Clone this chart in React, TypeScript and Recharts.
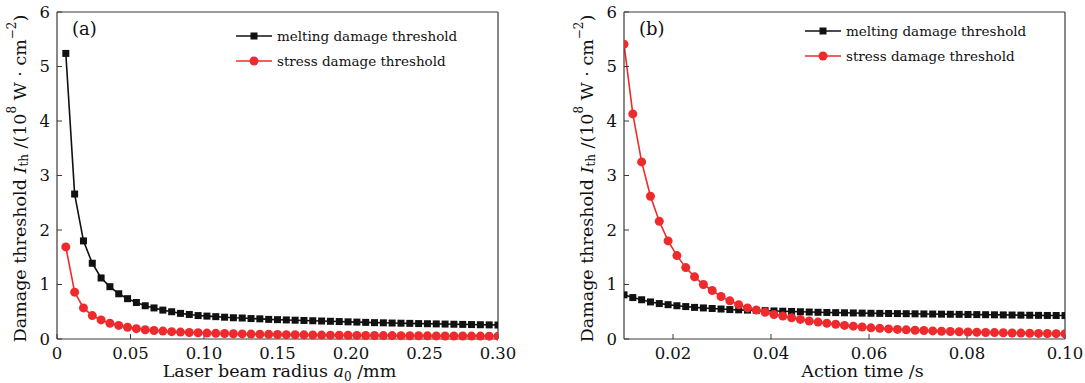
import { LineChart, Line, XAxis, YAxis, ReferenceLine, Label } from 'recharts';

const radius = [
  0.006, 0.012, 0.018, 0.024, 0.03, 0.036, 0.042, 0.048, 0.054, 0.06,
  0.066, 0.072, 0.078, 0.084, 0.09, 0.096, 0.102, 0.108, 0.114, 0.12,
  0.126, 0.132, 0.138, 0.144, 0.15, 0.156, 0.162, 0.168, 0.174, 0.18,
  0.186, 0.192, 0.198, 0.204, 0.21, 0.216, 0.222, 0.228, 0.234, 0.24,
  0.246, 0.252, 0.258, 0.264, 0.27, 0.276, 0.282, 0.288, 0.294, 0.3,
];
const meltingA = [
  5.24, 2.66, 1.8, 1.39, 1.12, 0.96, 0.83, 0.74, 0.67, 0.61,
  0.57, 0.53, 0.5, 0.47, 0.45, 0.43, 0.42, 0.41, 0.4, 0.39,
  0.385, 0.375, 0.37, 0.36, 0.355, 0.35, 0.345, 0.34, 0.335, 0.33,
  0.325, 0.32, 0.315, 0.31, 0.305, 0.3, 0.297, 0.293, 0.29, 0.287,
  0.283, 0.28, 0.277, 0.274, 0.271, 0.268, 0.265, 0.262, 0.259, 0.256,
];
const stressA = [
  1.69, 0.86, 0.57, 0.43, 0.35, 0.29, 0.25, 0.215, 0.19, 0.17,
  0.155, 0.145, 0.135, 0.127, 0.12, 0.114, 0.109, 0.104, 0.1, 0.096,
  0.093, 0.09, 0.087, 0.085, 0.082, 0.08, 0.078, 0.076, 0.074, 0.072,
  0.071, 0.069, 0.068, 0.066, 0.065, 0.064, 0.063, 0.062, 0.061, 0.06,
  0.059, 0.058, 0.057, 0.056, 0.055, 0.055, 0.054, 0.053, 0.052, 0.052,
];

const actionTime = [
  0.01, 0.0118, 0.0136, 0.0154, 0.0172, 0.019, 0.0208, 0.0226, 0.0244, 0.0262,
  0.028, 0.0298, 0.0316, 0.0334, 0.0352, 0.037, 0.0388, 0.0406, 0.0424, 0.0442,
  0.046, 0.0478, 0.0496, 0.0514, 0.0532, 0.055, 0.0568, 0.0586, 0.0604, 0.0622,
  0.064, 0.0658, 0.0676, 0.0694, 0.0712, 0.073, 0.0748, 0.0766, 0.0784, 0.0802,
  0.082, 0.0838, 0.0856, 0.0874, 0.0892, 0.091, 0.0928, 0.0946, 0.0964, 0.0982,
  0.1,
];
const meltingB = [
  0.81, 0.76, 0.72, 0.68, 0.65, 0.63, 0.61, 0.595, 0.58, 0.57,
  0.56, 0.55, 0.54, 0.535, 0.53, 0.525, 0.52, 0.515, 0.51, 0.505,
  0.5, 0.495, 0.49, 0.487, 0.484, 0.481, 0.478, 0.475, 0.472, 0.47,
  0.468, 0.466, 0.464, 0.462, 0.46, 0.458, 0.456, 0.454, 0.452, 0.45,
  0.448, 0.446, 0.444, 0.442, 0.44, 0.438, 0.436, 0.434, 0.432, 0.431,
  0.43,
];
const stressB = [
  5.41, 4.13, 3.25, 2.62, 2.16, 1.8, 1.53, 1.31, 1.14, 1.0,
  0.89, 0.78, 0.7, 0.63, 0.57, 0.53, 0.49, 0.45, 0.42, 0.39,
  0.36, 0.33, 0.31, 0.29, 0.27, 0.25, 0.235, 0.22, 0.205, 0.195,
  0.185, 0.176, 0.168, 0.161, 0.155, 0.149, 0.143, 0.138, 0.133, 0.128,
  0.124, 0.12, 0.117, 0.114, 0.111, 0.108, 0.105, 0.102, 0.1, 0.098,
  0.096,
];

const xTicksA = [0, 0.05, 0.1, 0.15, 0.2, 0.25, 0.3];
const xTicksB = [0.02, 0.04, 0.06, 0.08, 0.1];
const yTicks = [0, 1, 2, 3, 4, 5, 6];
const seriesNames = ['melting damage threshold', 'stress damage threshold'];

const BLACK = '#111';
const RED = '#ee2a2d';
const AXIS = '#3a3a3a';
const FONT = 'DejaVu Serif';

const dataA = radius.map((x, i) => ({ x, melting: meltingA[i], stress: stressA[i] }));
const dataB = actionTime.map((x, i) => ({ x, melting: meltingB[i], stress: stressB[i] }));

function Square(props: any) {
  const { cx, cy, index } = props;
  if (cx == null || cy == null) return <g key={index} />;
  return <rect key={index} x={cx - 3.5} y={cy - 3.5} width={7} height={7} fill={BLACK} />;
}

function Dot(props: any) {
  const { cx, cy, index } = props;
  if (cx == null || cy == null) return <g key={index} />;
  return <circle key={index} cx={cx} cy={cy} r={4.5} fill={RED} />;
}

function YTitle(props: any) {
  const vb = props.viewBox || { y: 12, height: 327 };
  const cx = 20;
  const cy = vb.y + vb.height / 2 + 3;
  return (
    <text
      x={cx}
      y={cy}
      transform={`rotate(-90, ${cx}, ${cy})`}
      textAnchor="middle"
      dominantBaseline="central"
      fontFamily={FONT}
      fontSize={17.5}
      fill={BLACK}
    >
      Damage threshold <tspan fontStyle="italic">I</tspan>
      <tspan fontSize={12} dy={4}>th</tspan>
      <tspan dy={-4}> /(10</tspan>
      <tspan fontSize={12} dy={-8}>8</tspan>
      <tspan dy={8}> W · cm</tspan>
      <tspan fontSize={12} dy={-8}>−2</tspan>
      <tspan dy={8}>)</tspan>
    </text>
  );
}

function XTitleA(props: any) {
  const vb = props.viewBox || { x: 57, width: 441 };
  return (
    <text x={vb.x + vb.width / 2 + 2} y={377} textAnchor="middle" fontFamily={FONT} fontSize={17.5} fill={BLACK}>
      Laser beam radius <tspan fontStyle="italic">a</tspan>
      <tspan fontSize={12} dy={4}>0</tspan>
      <tspan dy={-4}> /mm</tspan>
    </text>
  );
}

function XTitleB(props: any) {
  const vb = props.viewBox || { x: 57, width: 441 };
  return (
    <text x={vb.x + vb.width / 2 + 18} y={377} textAnchor="middle" fontFamily={FONT} fontSize={17.5} fill={BLACK}>
      Action time /s
    </text>
  );
}

function PanelTag({ text }: { text: string }) {
  return (
    <text x={72} y={35} fontFamily={FONT} fontSize={18} fill={BLACK}>
      {text}
    </text>
  );
}

function LegendBox({ left, top }: { left: number; top: number }) {
  return (
    <div style={{ position: 'absolute', left, top, fontFamily: FONT, fontSize: 13.5, color: BLACK }}>
      {seriesNames.map((name, i) => (
        <div key={name} style={{ display: 'flex', alignItems: 'center', height: 24.5 }}>
          <svg width={36} height={12}>
            <line x1={0} y1={6} x2={36} y2={6} stroke={i === 0 ? BLACK : RED} strokeWidth={1.6} />
            {i === 0 ? (
              <rect x={14.5} y={2.5} width={7} height={7} fill={BLACK} />
            ) : (
              <circle cx={18} cy={6} r={4.5} fill={RED} />
            )}
          </svg>
          <span style={{ marginLeft: 5, whiteSpace: 'nowrap' }}>{name}</span>
        </div>
      ))}
    </div>
  );
}

const tickStyle = { fontFamily: FONT, fontSize: 16.5, fill: BLACK };

function Panel({
  data,
  domain,
  ticks,
  format,
  tag,
  XTitle,
  width,
}: {
  data: { x: number; melting: number; stress: number }[];
  domain: [number, number];
  ticks: number[];
  format: (v: number) => string;
  tag: string;
  XTitle: any;
  width: number;
}) {
  return (
    <LineChart width={width} height={383} data={data} margin={{ top: 12, right: width - 498, left: 0, bottom: 0 }}>
      <XAxis
        type="number"
        dataKey="x"
        domain={domain}
        ticks={ticks}
        tickFormatter={format}
        allowDataOverflow
        height={44}
        stroke={AXIS}
        tickSize={-5}
        tickMargin={13}
        tick={tickStyle}
        axisLine={{ stroke: AXIS, strokeWidth: 1.2 }}
        tickLine={{ stroke: AXIS }}
      >
        <Label content={<XTitle />} />
      </XAxis>
      <YAxis
        type="number"
        domain={[0, 6]}
        ticks={yTicks}
        width={57}
        stroke={AXIS}
        tickSize={-5}
        tickMargin={12}
        tick={tickStyle}
        axisLine={{ stroke: AXIS, strokeWidth: 1.2 }}
        tickLine={{ stroke: AXIS }}
      >
        <Label content={<YTitle />} />
      </YAxis>
      <ReferenceLine y={6} stroke={AXIS} strokeWidth={1.2} label={<PanelTag text={tag} />} />
      <ReferenceLine x={domain[1]} stroke={AXIS} strokeWidth={1.2} />
      <Line
        type="linear"
        dataKey="melting"
        name={seriesNames[0]}
        stroke={BLACK}
        strokeWidth={1.6}
        dot={Square}
        activeDot={false}
        isAnimationActive={false}
      />
      <Line
        type="linear"
        dataKey="stress"
        name={seriesNames[1]}
        stroke={RED}
        strokeWidth={1.6}
        dot={Dot}
        activeDot={false}
        isAnimationActive={false}
      />
    </LineChart>
  );
}

export default function App() {
  return (
    <div
      style={{
        position: 'absolute',
        left: 0,
        top: 0,
        width: 1085,
        height: 383,
        background: '#fff',
        overflow: 'hidden',
      }}
    >
      <div style={{ position: 'absolute', left: 0, top: 0 }}>
        <Panel
          data={dataA}
          domain={[0, 0.3]}
          ticks={xTicksA}
          format={(v) => (v === 0 ? '0' : v.toFixed(2))}
          tag="(a)"
          XTitle={XTitleA}
          width={530}
        />
      </div>
      <LegendBox left={236} top={24} />
      <div style={{ position: 'absolute', left: 567, top: 0 }}>
        <Panel
          data={dataB}
          domain={[0.01, 0.1]}
          ticks={xTicksB}
          format={(v) => v.toFixed(2)}
          tag="(b)"
          XTitle={XTitleB}
          width={518}
        />
      </div>
      <LegendBox left={805} top={19} />
    </div>
  );
}
